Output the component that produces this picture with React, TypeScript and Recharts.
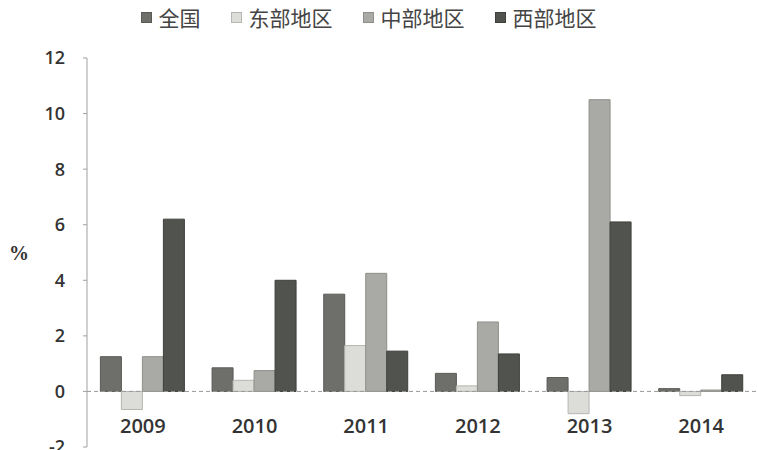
import { BarChart, Bar, XAxis, YAxis, ReferenceLine, Legend } from 'recharts';

const years = ['2009', '2010', '2011', '2012', '2013', '2014'];
const national = [1.25, 0.85, 3.5, 0.65, 0.5, 0.1];
const east = [-0.65, 0.4, 1.65, 0.2, -0.8, -0.15];
const central = [1.25, 0.75, 4.25, 2.5, 10.5, 0.05];
const west = [6.2, 4.0, 1.45, 1.35, 6.1, 0.6];
const yTicks = [-2, 0, 2, 4, 6, 8, 10, 12];

const seriesNames = ['全国', '东部地区', '中部地区', '西部地区'];
const COLORS = ['#6e6f6a', '#dcdcd8', '#a9aaa5', '#51534e'];
const STROKES = ['#5a5b57', '#b5b5b1', '#8f908b', '#3e403b'];

const data = years.map((y, i) => ({
    year: y,
    s0: national[i],
    s1: east[i],
    s2: central[i],
    s3: west[i],
}));

const YearTick = (props: any) => {
    const { x, y, payload } = props;
    return (
        <text x={x} y={y - 22} textAnchor="middle" fill="#333" fontSize={20} fontWeight={600} fontFamily="'Open Sans', sans-serif">
            {payload.value}
        </text>
    );
};

const LegendContent = () => (
    <div style={{ display: 'flex', justifyContent: 'center', gap: 30, fontFamily: "'Noto Sans CJK SC', sans-serif", fontSize: 21, color: '#444', lineHeight: '26px', paddingRight: 20 }}>
        {seriesNames.map((n, i) => (
            <span key={n} style={{ display: 'flex', alignItems: 'center' }}>
                <span style={{ width: 9, height: 9, background: COLORS[i], border: `1px solid ${STROKES[i]}`, marginRight: 7, display: 'inline-block' }} />
                {n}
            </span>
        ))}
    </div>
);

export default function App() {
    return (
        <div style={{ position: 'absolute', left: 0, top: 0, width: 757, height: 450, background: '#fff' }}>
            <BarChart width={757} height={450} data={data} margin={{ top: 32, right: 0, bottom: 0, left: 27 }} barCategoryGap="12%" barGap={0}>
                <XAxis dataKey="year" axisLine={false} tickLine={false} height={3} tick={<YearTick />} interval={0} />
                <YAxis
                    width={60}
                    domain={[-2, 12]}
                    ticks={yTicks}
                    interval={0}
                    axisLine={{ stroke: '#a0a0a0' }}
                    tickLine={{ stroke: '#a0a0a0' }}
                    tickSize={4}
                    tickMargin={18}
                    tick={{ fill: '#333', fontSize: 18, fontWeight: 600, fontFamily: "'Open Sans', sans-serif" }}
                    label={{ value: '%', position: 'insideLeft', offset: -18, fill: '#333', fontSize: 20, fontWeight: 'bold' }}
                />
                <ReferenceLine y={0} stroke="#999" strokeDasharray="4 3" />
                <Legend verticalAlign="top" content={<LegendContent />} wrapperStyle={{ top: 4, left: 0, width: 757 }} />
                {['s0', 's1', 's2', 's3'].map((k, i) => (
                    <Bar key={k} dataKey={k} name={seriesNames[i]} fill={COLORS[i]} stroke={STROKES[i]} strokeWidth={1} isAnimationActive={false} />
                ))}
            </BarChart>
        </div>
    );
}
